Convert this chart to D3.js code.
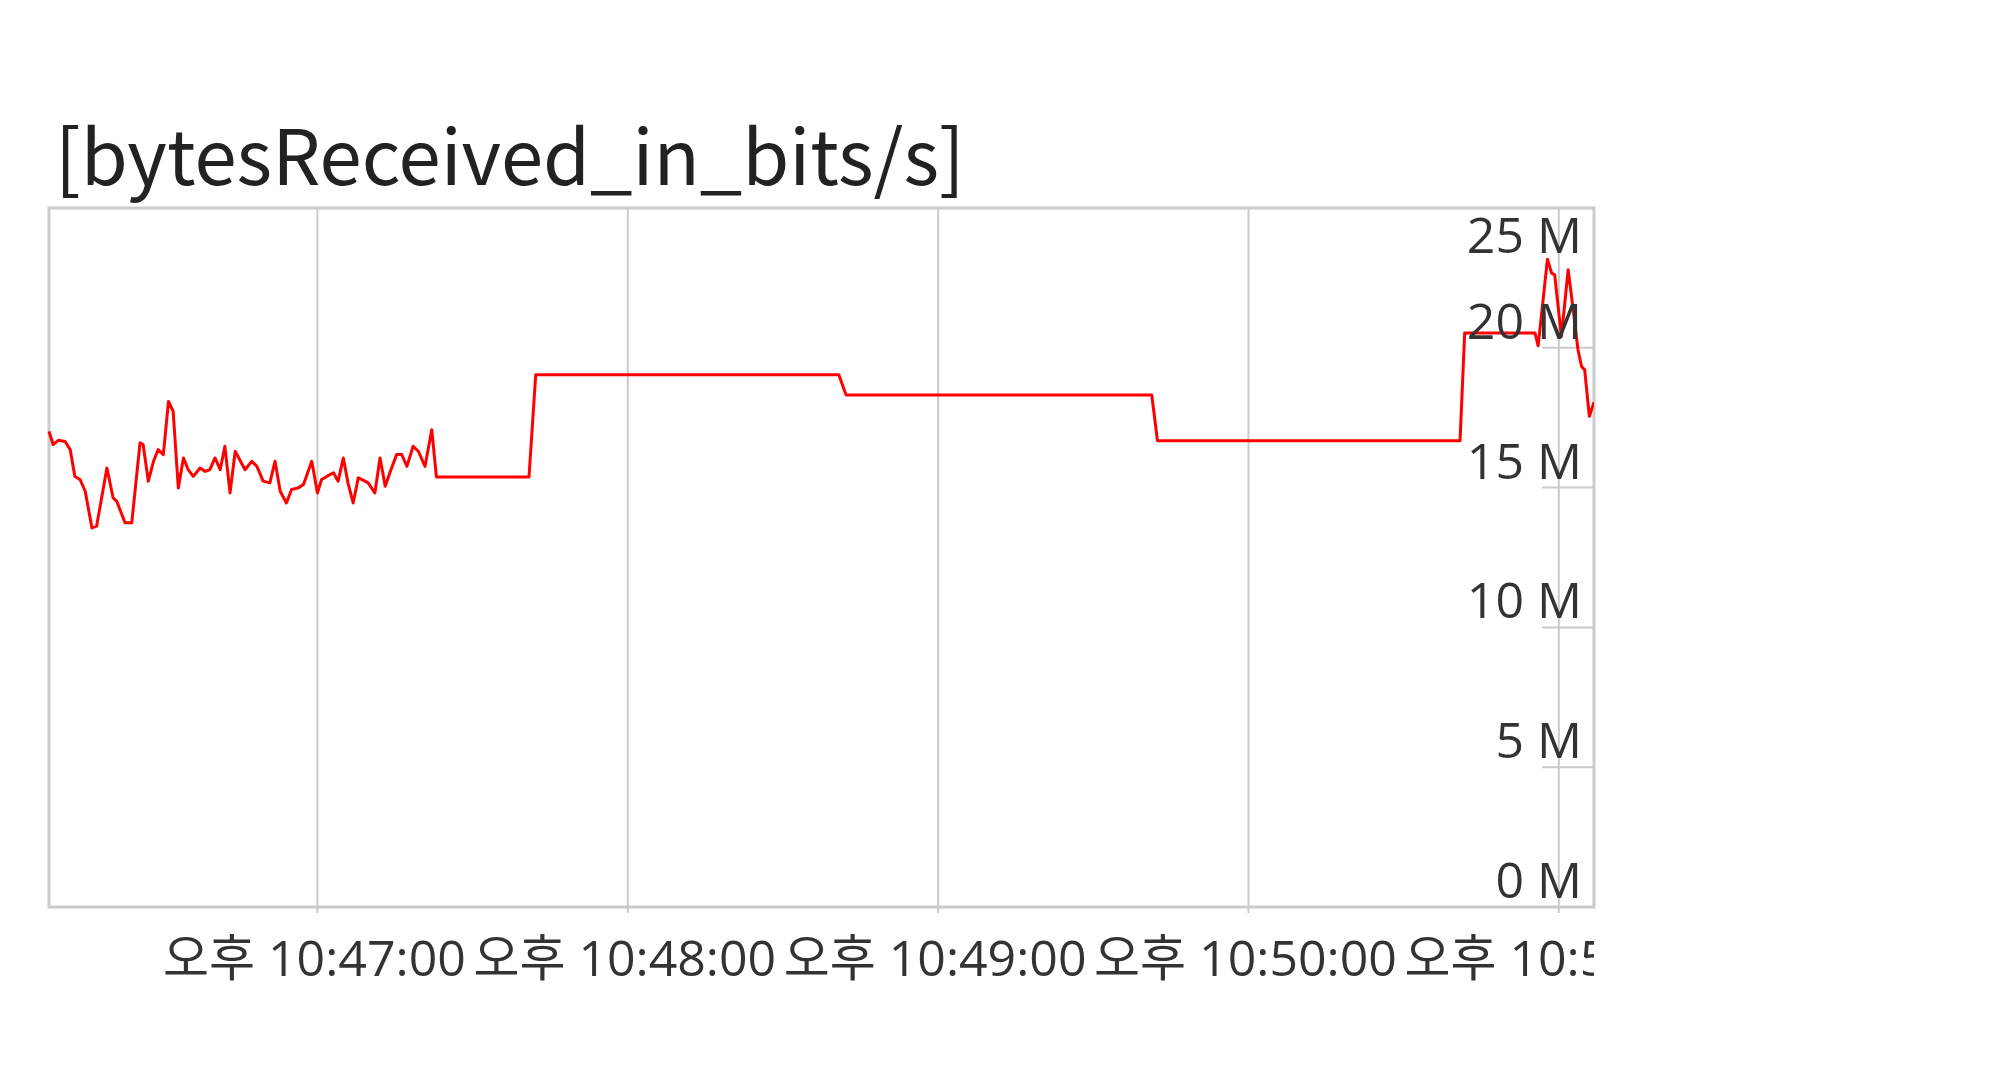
<!DOCTYPE html>
<html>
<head>
<meta charset="utf-8">
<script src="https://cdn.jsdelivr.net/npm/d3@7"></script>
<style>
  body { margin: 0; background: #fff; }
  .chart-title { font-family: "Noto Sans CJK KR", sans-serif; font-size: 76px; fill: #222; }
  .axis-label { font-family: "Open Sans", "Noto Sans CJK KR", sans-serif; font-size: 50px; fill: #333; }
</style>
</head>
<body>
<svg id="chart"></svg>
<script>
// sample times, seconds after 22:46:00
const sampleSeconds = [
  8.1, 8.9, 9.9, 11.2, 12.2, 13.1, 14.1, 15.1, 16.4, 17.3,
  19.3, 20.5, 21.2, 22.8, 24.1, 25.7, 26.3, 27.3, 28.3, 29.2,
  30.2, 31.2, 32.1, 33.1, 34.1, 35.0, 36.0, 37.3, 38.3, 39.2,
  40.2, 41.2, 42.1, 43.1, 44.1, 46.0, 47.3, 48.3, 49.5, 50.8,
  51.8, 52.8, 54.0, 55.0, 56.3, 57.3, 58.9, 60.0, 60.8, 61.8,
  63.1, 64.0, 65.0, 65.9, 66.9, 67.9, 69.2, 69.8, 71.1, 72.1,
  73.1, 74.0, 75.3, 76.3, 77.3, 78.5, 79.5, 80.8, 82.1, 83.0,
  100.9, 102.2, 160.8, 162.2, 221.3, 222.4, 280.9, 281.8, 295.4, 296.0,
  297.8, 298.6, 299.2, 300.5, 301.8, 302.7, 303.7, 304.4, 305.0, 305.9,
  306.8
];

// received rate, Mbit/s
const bitrateMbps = [
  17.01, 16.54, 16.69, 16.65, 16.36, 15.40, 15.29, 14.87, 13.56, 13.62,
  15.70, 14.63, 14.51, 13.74, 13.74, 16.60, 16.54, 15.23, 15.94, 16.36,
  16.18, 18.08, 17.73, 14.99, 16.06, 15.64, 15.40, 15.70, 15.58, 15.64,
  16.06, 15.64, 16.48, 14.81, 16.30, 15.64, 15.94, 15.76, 15.23, 15.17,
  15.94, 14.87, 14.45, 14.93, 14.99, 15.11, 15.94, 14.81, 15.29, 15.40,
  15.53, 15.23, 16.06, 15.17, 14.45, 15.35, 15.23, 15.17, 14.81, 16.06,
  15.05, 15.53, 16.18, 16.18, 15.76, 16.48, 16.30, 15.76, 17.07, 15.38,
  15.38, 19.04, 19.04, 18.31, 18.31, 16.68, 16.68, 20.53, 20.53, 20.07,
  23.17, 22.67, 22.61, 20.40, 22.79, 21.48, 19.93, 19.33, 19.21, 17.55,
  18.05
];

const yTickValues = [0, 5, 10, 15, 20, 25];
const timeWindow = [8.1, 306.8];
const titleText = "[bytesReceived_in_bits/s]";

// Korean 오전/오후 time labels
const koLocale = d3.timeFormatLocale({
  dateTime: "%Y. %-m. %-d. %p %-I:%M:%S",
  date: "%Y. %-m. %-d.",
  time: "%p %-I:%M:%S",
  periods: ["오전", "오후"],
  days: ["일요일", "월요일", "화요일", "수요일", "목요일", "금요일", "토요일"],
  shortDays: ["일", "월", "화", "수", "목", "금", "토"],
  months: ["1월", "2월", "3월", "4월", "5월", "6월", "7월", "8월", "9월", "10월", "11월", "12월"],
  shortMonths: ["1월", "2월", "3월", "4월", "5월", "6월", "7월", "8월", "9월", "10월", "11월", "12월"]
});

class RateGraph {
  constructor(_config, _data) {
    this.config = {
      parentElement: _config.parentElement,
      containerWidth: _config.containerWidth || 2000,
      containerHeight: _config.containerHeight || 1070,
      margin: { top: 208, bottom: 163, right: 406, left: 49 }
    };
    this.data = _data;
    this.initVis();
  }

  initVis() {
    let vis = this;

    vis.width = vis.config.containerWidth - vis.config.margin.left - vis.config.margin.right;
    vis.height = vis.config.containerHeight - vis.config.margin.top - vis.config.margin.bottom;

    vis.svg = d3.select(vis.config.parentElement)
      .attr('width', vis.config.containerWidth)
      .attr('height', vis.config.containerHeight);

    vis.chart = vis.svg.append('g')
      .attr('transform', `translate(${vis.config.margin.left},${vis.config.margin.top})`);

    vis.svg.append('defs').append('clipPath')
      .attr('id', 'plot-clip')
      .append('rect')
      .attr('x', -2).attr('y', -2)
      .attr('width', vis.width + 2)
      .attr('height', vis.height + 4);

    // the last time label gets cut at the right edge of the frame
    vis.svg.append('defs').append('clipPath')
      .attr('id', 'label-clip')
      .append('rect')
      .attr('x', -vis.config.margin.left).attr('y', vis.height)
      .attr('width', vis.width + vis.config.margin.left)
      .attr('height', vis.config.margin.bottom);

    vis.xScale = d3.scaleTime().range([0, vis.width]);
    vis.yScale = d3.scaleLinear().range([vis.height, 0]);

    vis.formatTime = koLocale.format("%p %-I:%M:%S");
  }

  updateVis() {
    let vis = this;

    vis.base = new Date(2021, 0, 1, 22, 46, 0);
    vis.toDate = s => new Date(vis.base.getTime() + s * 1000);

    vis.xValue = d => vis.toDate(d.sec);
    vis.yValue = d => d.val;

    vis.xScale.domain(timeWindow.map(vis.toDate));
    vis.yScale.domain([0, d3.max(yTickValues)]);

    vis.minuteTicks = vis.xScale.ticks(d3.timeMinute.every(1));

    vis.renderVis();
  }

  renderVis() {
    let vis = this;

    // vertical grid, poking a little below the frame
    vis.chart.selectAll('.grid-x')
      .data(vis.minuteTicks)
      .join('line')
      .attr('class', 'grid-x')
      .attr('x1', d => vis.xScale(d)).attr('x2', d => vis.xScale(d))
      .attr('y1', 0).attr('y2', vis.height + 6)
      .attr('stroke', '#cbcbcb')
      .attr('stroke-width', 2);

    // short marks on the right for the value ticks
    vis.chart.selectAll('.tick-y')
      .data(yTickValues)
      .join('line')
      .attr('class', 'tick-y')
      .attr('x1', vis.width - 52).attr('x2', vis.width)
      .attr('y1', d => vis.yScale(d)).attr('y2', d => vis.yScale(d))
      .attr('stroke', '#cbcbcb')
      .attr('stroke-width', 2);

    vis.chart.append('rect')
      .attr('width', vis.width)
      .attr('height', vis.height)
      .attr('fill', 'none')
      .attr('stroke', '#cbcbcb')
      .attr('stroke-width', 3);

    vis.line = d3.line()
      .x(d => vis.xScale(vis.xValue(d)))
      .y(d => vis.yScale(vis.yValue(d)));

    vis.chart.append('path')
      .datum(vis.data)
      .attr('clip-path', 'url(#plot-clip)')
      .attr('fill', 'none')
      .attr('stroke', '#ff0000')
      .attr('stroke-width', 3)
      .attr('stroke-linejoin', 'round')
      .attr('d', vis.line);

    // value labels sit just above their mark; the top one is kept inside the frame
    vis.chart.selectAll('.y-label')
      .data(yTickValues)
      .join('text')
      .attr('class', 'axis-label y-label')
      .attr('x', vis.width - 12)
      .attr('y', d => Math.max(vis.yScale(d) - 9, 45))
      .attr('text-anchor', 'end')
      .text(d => `${d} M`);

    vis.chart.append('g')
      .attr('clip-path', 'url(#label-clip)')
      .selectAll('.x-label')
      .data(vis.minuteTicks)
      .join('text')
      .attr('class', 'axis-label x-label')
      .attr('x', d => vis.xScale(d) - 3)
      .attr('y', vis.height + 69)
      .attr('text-anchor', 'middle')
      .text(d => vis.formatTime(d));

    vis.svg.append('text')
      .attr('class', 'chart-title')
      .attr('x', vis.config.margin.left + 6)
      .attr('y', vis.config.margin.top - 23)
      .text(titleText);
  }
}

const points = sampleSeconds.map((s, i) => ({ sec: s, val: bitrateMbps[i] }));
const graph = new RateGraph({ parentElement: '#chart' }, points);
graph.updateVis();
</script>
</body>
</html>
